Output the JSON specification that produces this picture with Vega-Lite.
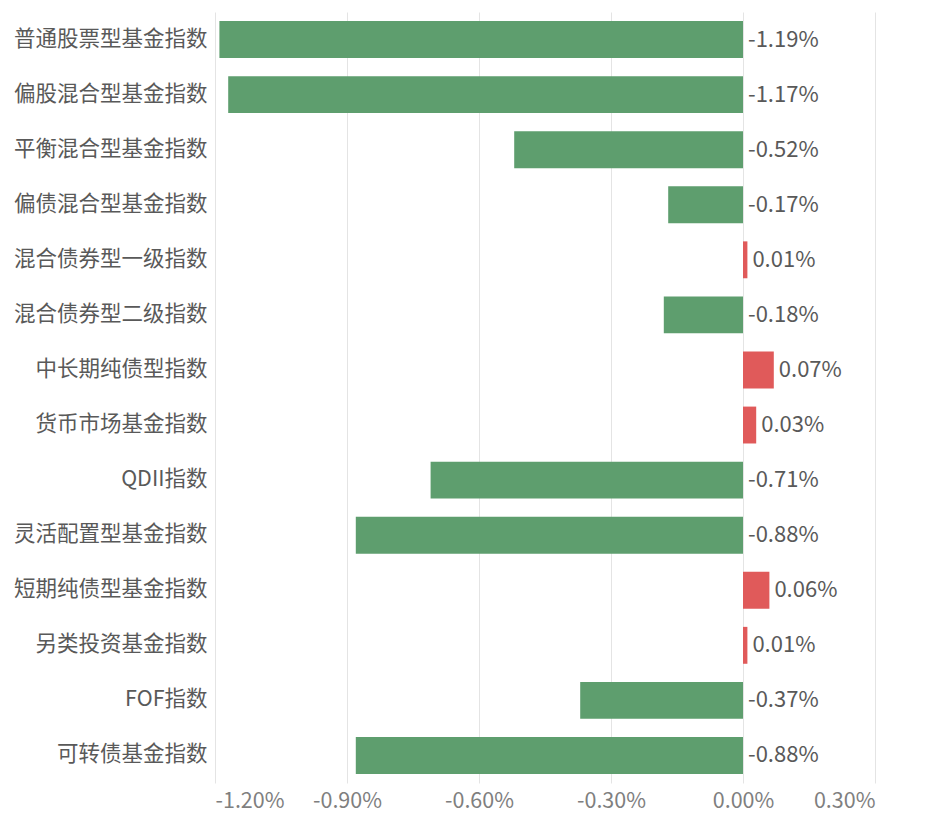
{
  "$schema": "https://vega.github.io/schema/vega-lite/v6.json",
  "autosize": {"type": "none"},
  "width": 660,
  "height": 771,
  "padding": {"left": 215, "top": 12, "right": 50, "bottom": 46},
  "background": "white",
  "config": {
    "font": "Noto Sans CJK SC",
    "view": {"stroke": null}
  },
  "data": {
    "values": [
      {"name": "普通股票型基金指数", "value": -1.19},
      {"name": "偏股混合型基金指数", "value": -1.17},
      {"name": "平衡混合型基金指数", "value": -0.52},
      {"name": "偏债混合型基金指数", "value": -0.17},
      {"name": "混合债券型一级指数", "value": 0.01},
      {"name": "混合债券型二级指数", "value": -0.18},
      {"name": "中长期纯债型指数", "value": 0.07},
      {"name": "货币市场基金指数", "value": 0.03},
      {"name": "QDII指数", "value": -0.71},
      {"name": "灵活配置型基金指数", "value": -0.88},
      {"name": "短期纯债型基金指数", "value": 0.06},
      {"name": "另类投资基金指数", "value": 0.01},
      {"name": "FOF指数", "value": -0.37},
      {"name": "可转债基金指数", "value": -0.88}
    ]
  },
  "transform": [
    {"calculate": "replace(format(datum.value, '.2f'), '\u2212', '-') + '%'", "as": "label"}
  ],
  "encoding": {
    "y": {
      "field": "name",
      "type": "nominal",
      "sort": null,
      "scale": {"paddingInner": 0.33, "paddingOuter": 0.165},
      "axis": {
        "title": null,
        "ticks": false,
        "domain": false,
        "labelFontSize": 21.5,
        "labelColor": "#595959",
        "labelPadding": 8,
        "labelLimit": 400,
        "labelFont": "Noto Sans CJK SC"
      }
    }
  },
  "layer": [
    {
      "mark": {"type": "bar"},
      "encoding": {
        "x": {
          "field": "value",
          "type": "quantitative",
          "scale": {"domain": [-1.2, 0.3], "nice": false, "zero": false},
          "axis": {
            "title": null,
            "values": [-1.2, -0.9, -0.6, -0.3, 0, 0.3],
            "labelExpr": "replace(format(datum.value, '.2f'), '\u2212', '-') + '%'",
            "labelFontSize": 21.5,
            "labelColor": "#7f7f7f",
            "labelPadding": 7,
            "ticks": false,
            "domain": false,
            "grid": true,
            "gridColor": "#e4e4e4",
            "gridWidth": 1
          }
        },
        "x2": {"datum": 0},
        "color": {
          "condition": {"test": "datum.value >= 0", "value": "#e05a5a"},
          "value": "#5e9e6e"
        }
      }
    },
    {
      "transform": [{"filter": "datum.value < 0"}],
      "mark": {"type": "text", "align": "left", "dx": 5, "fontSize": 22, "color": "#595959"},
      "encoding": {
        "x": {"datum": 0, "type": "quantitative"},
        "text": {"field": "label", "type": "nominal"}
      }
    },
    {
      "transform": [{"filter": "datum.value >= 0"}],
      "mark": {"type": "text", "align": "left", "dx": 5, "fontSize": 22, "color": "#595959"},
      "encoding": {
        "x": {"field": "value", "type": "quantitative"},
        "text": {"field": "label", "type": "nominal"}
      }
    }
  ]
}
